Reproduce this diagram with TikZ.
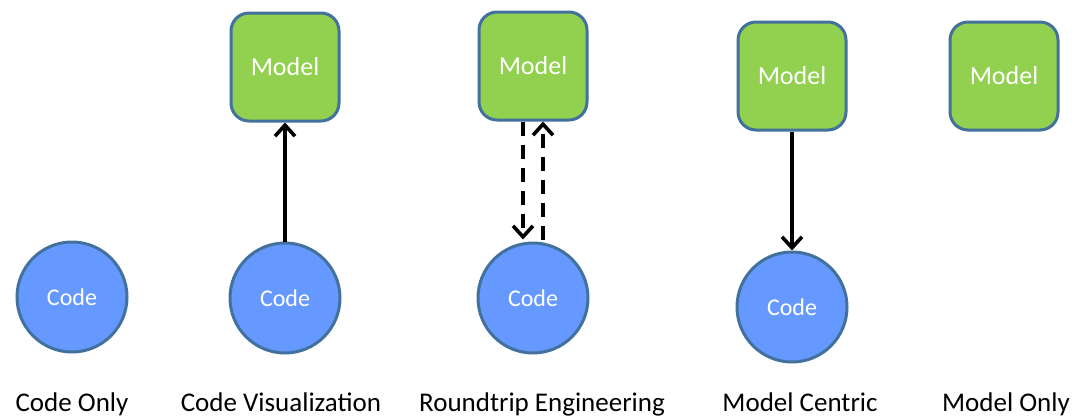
\documentclass[tikz,border=0pt]{standalone}
\usepackage{fontspec}
\setmainfont{Carlito}
\usetikzlibrary{arrows.meta}
\definecolor{modelgreen}{HTML}{92D050}
\definecolor{codeblue}{HTML}{6699FF}
\definecolor{rim}{HTML}{41719C}
\tikzset{
  modelbox/.style={rectangle, rounded corners=18pt, minimum width=108pt, minimum height=108pt,
    fill=modelgreen, draw=rim, line width=3pt, text=white, font=\fontsize{26}{30}\selectfont, inner sep=0pt},
  codecircle/.style={circle, minimum size=110pt, fill=codeblue, draw=rim, line width=3pt,
    text=white, font=\fontsize{24}{28}\selectfont, inner sep=0pt},
  caption/.style={anchor=base, font=\fontsize{27}{32}\selectfont, text=black, inner sep=0pt},
  flow/.style={draw=black, line width=3.6pt, -{Straight Barb[length=11pt,width=20pt,line width=3.6pt]}},
  backflow/.style={flow, dash pattern=on 14pt off 9pt}
}
\begin{document}
\begin{tikzpicture}[x=1pt,y=-1pt]
\useasboundingbox (0,0) rectangle (1078,418);
% Code only
\node[codecircle] (c1) at (72,297) {Code};
\node[caption] (l1) at (72,411) {Code Only};
% Code visualization
\node[modelbox] (m2) at (285,67) {Model};
\node[codecircle] (c2) at (285,298) {Code};
\node[caption] (l2) at (281,411) {Code Visualization};
\draw[flow] (c2.north) -- (m2.south);
% Roundtrip engineering
\node[modelbox] (m3) at (533,66) {Model};
\node[codecircle] (c3) at (533,298) {Code};
\node[caption] (l3) at (542,411) {Roundtrip Engineering};
\draw[backflow] ([xshift=-10pt]m3.south) -- ([xshift=-10pt,yshift=2pt]c3.north);
\draw[backflow] ([xshift=10pt,yshift=2pt]c3.north) -- ([xshift=10pt]m3.south);
% Model centric
\node[modelbox] (m4) at (792,76) {Model};
\node[codecircle] (c4) at (792,307) {Code};
\node[caption] (l4) at (800,411) {Model Centric};
\draw[flow] (m4.south) -- (c4.north);
% Model only
\node[modelbox] (m5) at (1004,76) {Model};
\node[caption] (l5) at (1006,411) {Model Only};
\end{tikzpicture}
\end{document}
